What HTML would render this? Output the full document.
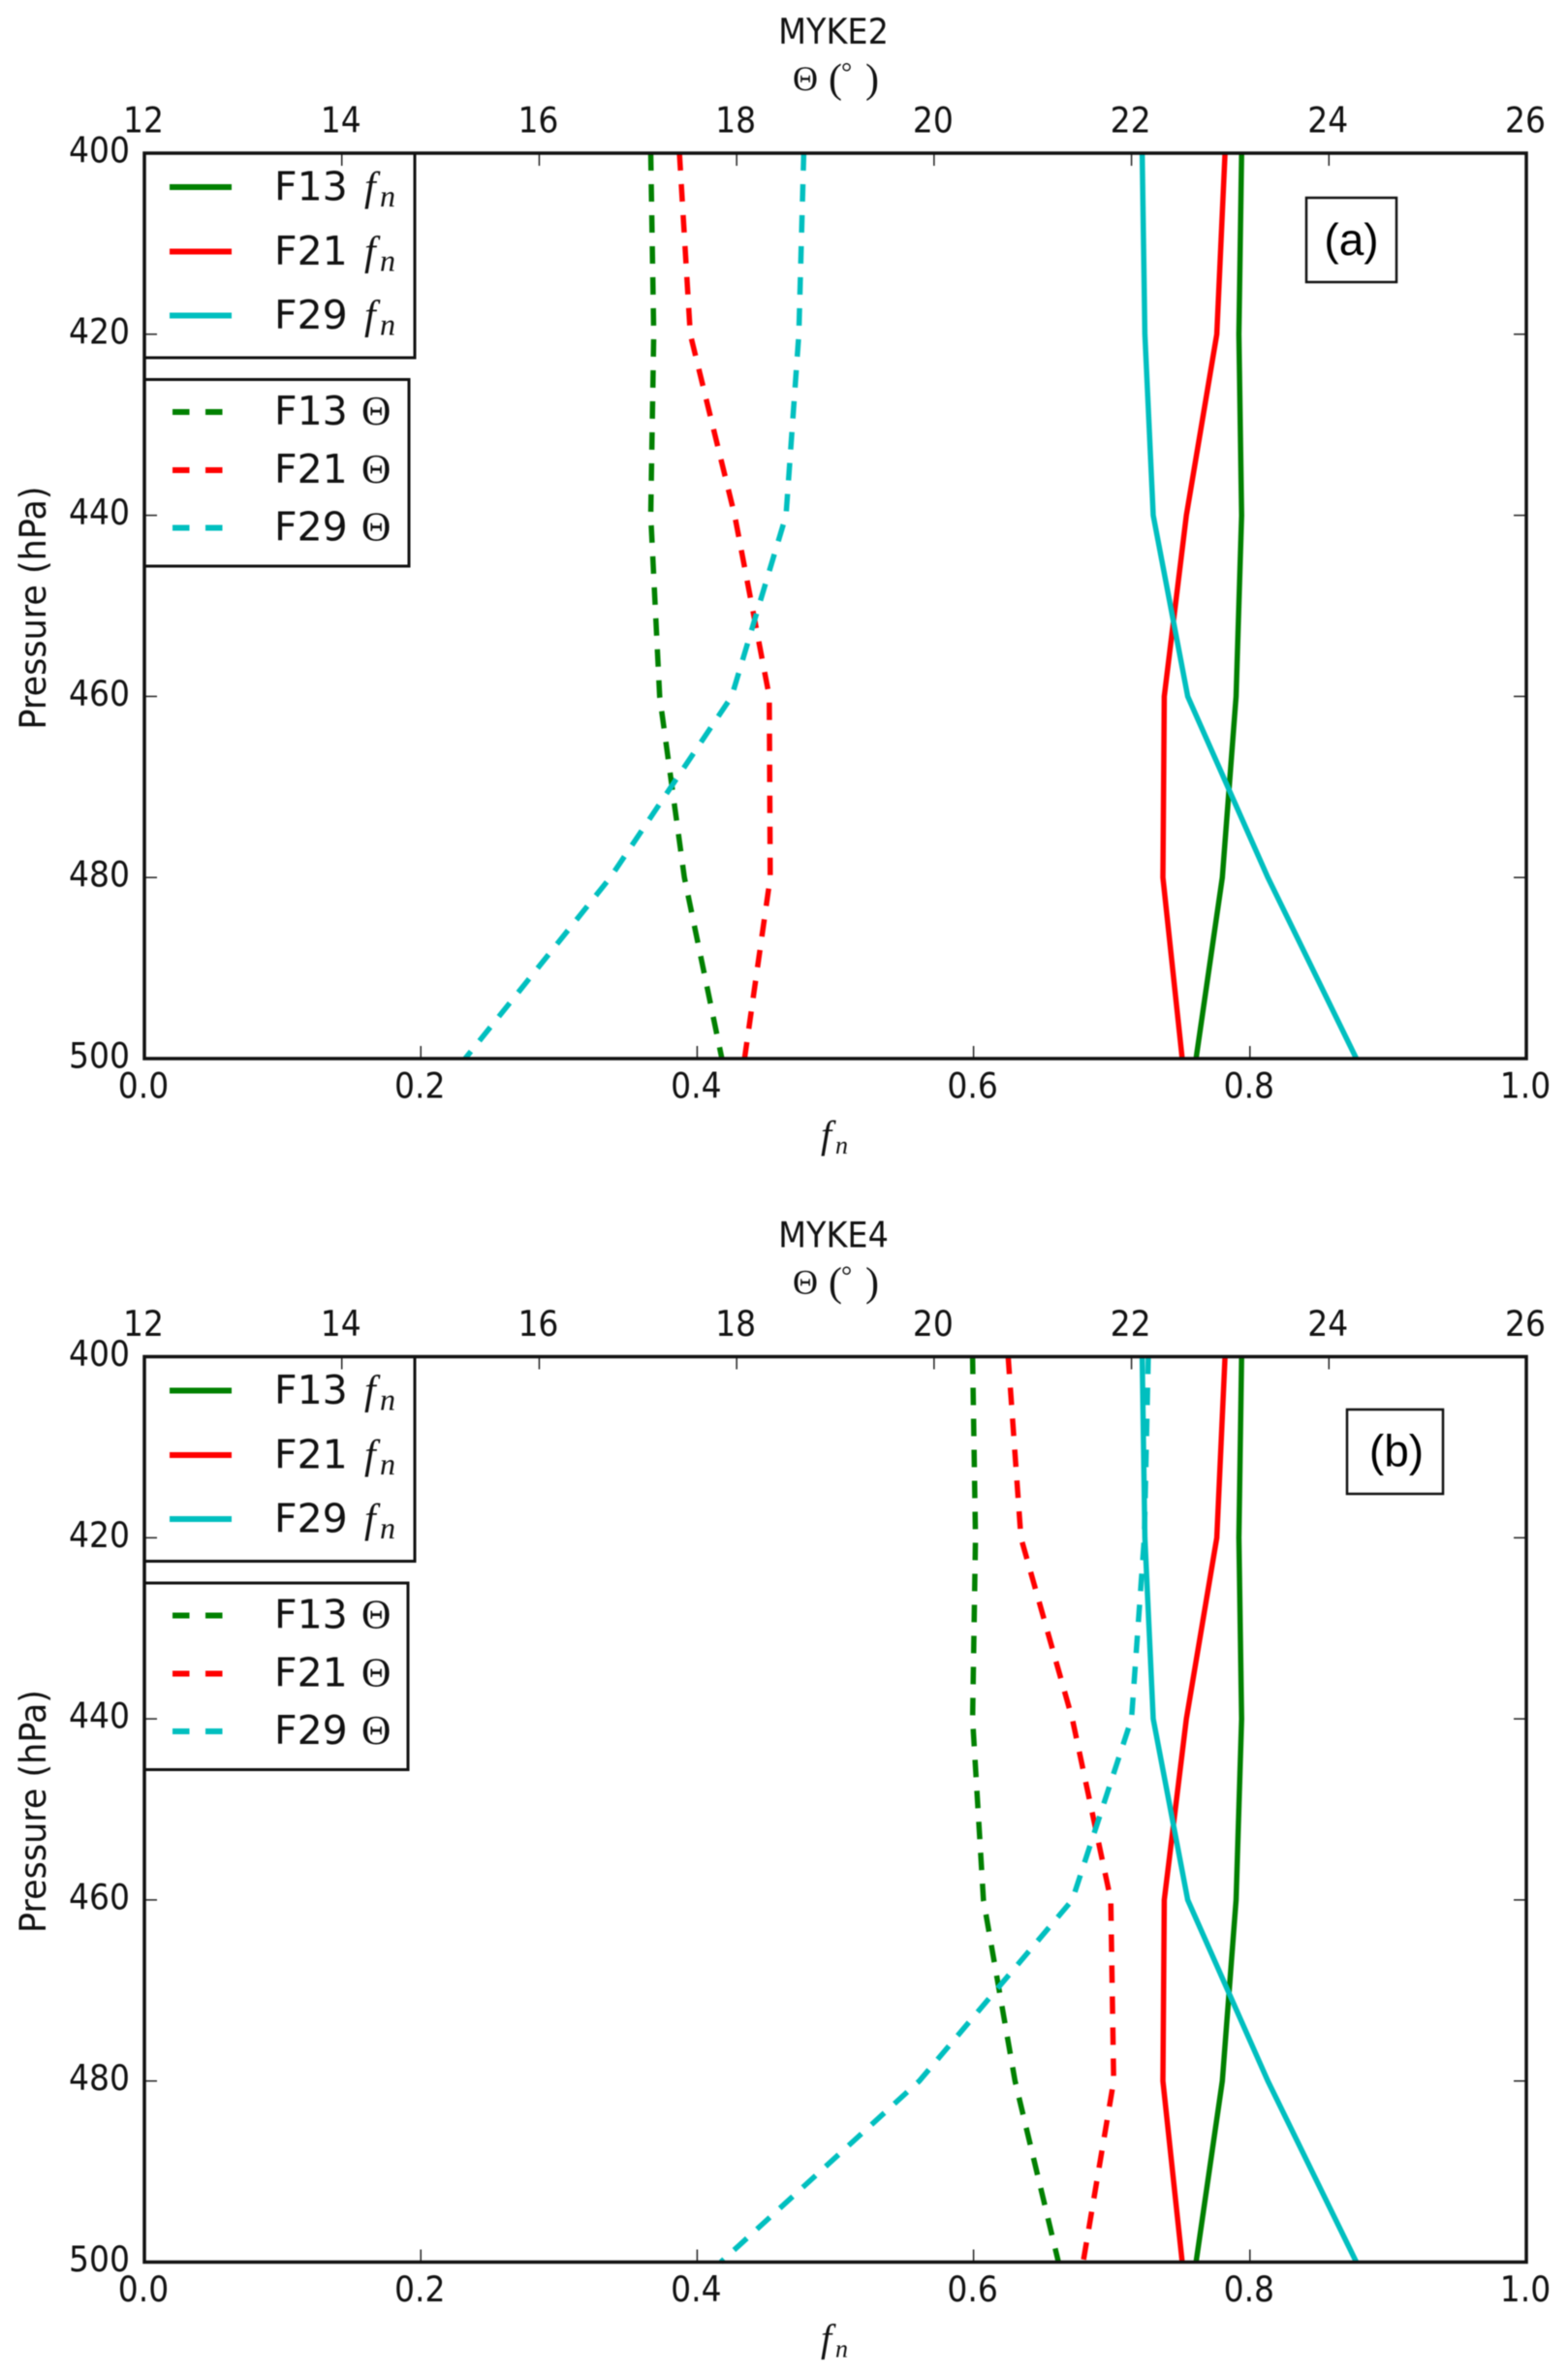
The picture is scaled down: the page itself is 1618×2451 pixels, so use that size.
<!DOCTYPE html>
<html lang="en">
<head>
<meta charset="utf-8">
<title>MYKE2 and MYKE4 profiles</title>
<style>
html,body{margin:0;padding:0;background:#fff;}
svg{display:block;filter:blur(0.6px);}
text{font-family:"DejaVu Sans","Liberation Sans",sans-serif;fill:#111;}
.serif{font-family:"Liberation Serif",serif;}
.it{font-family:"Liberation Serif",serif;font-style:italic;}
.note{font-family:"Liberation Sans",sans-serif;fill:#000;font-size:46px;text-anchor:middle;}
.leg{font-size:41px;}
.box{fill:#fff;stroke:#111;stroke-width:3;}
.solid{fill:none;stroke-width:5.5;}
.dash{fill:none;stroke-width:5.5;stroke-dasharray:18 14;}
.g{stroke:#008000;}.r{stroke:#ff0000;}.c{stroke:#00bfbf;}
</style>
</head>
<body>
<svg id="figure" xmlns="http://www.w3.org/2000/svg" width="1618" height="2451" viewBox="0 0 1618 2451">
<rect width="1618" height="2451" fill="#fff"/>

<!-- Panel A -->
<g id="panel-a">
  <g id="panel-a-lines"></g>
  <text font-size="33.5" text-anchor="middle" transform="translate(864,45) scale(1,1.1)" x="-4">MYKE2</text>
  <text class="serif" font-size="36" transform="translate(0,93)"><tspan x="818">Θ</tspan><tspan x="855" font-size="42" dy="2">(</tspan><tspan x="868" font-size="28" dy="-11">°</tspan><tspan x="893" font-size="42" dy="11">)</tspan></text>
  <text font-size="35" text-anchor="middle" transform="translate(47,627) rotate(-90) scale(1,1.08)">Pressure (hPa)</text>
  <g>
    <text class="it" font-size="40" x="847" y="1184">f</text>
    <text class="it" font-size="26" x="862" y="1190">n</text>
  </g>
  <g>
    <rect class="box" x="149" y="158" width="279" height="211"/>
    <line class="g" stroke-width="6" x1="175" x2="239" y1="193" y2="193"/>
    <text class="leg" x="283" y="206.5">F13</text>
    <text class="it" font-size="42" x="376" y="206.5">f</text><text class="it" font-size="32" x="392" y="213">n</text>
    <line class="r" stroke-width="6" x1="175" x2="239" y1="259.5" y2="259.5"/>
    <text class="leg" x="283" y="273">F21</text>
    <text class="it" font-size="42" x="376" y="273">f</text><text class="it" font-size="32" x="392" y="279.5">n</text>
    <line class="c" stroke-width="6" x1="175" x2="239" y1="325.5" y2="325.5"/>
    <text class="leg" x="283" y="339">F29</text>
    <text class="it" font-size="42" x="376" y="339">f</text><text class="it" font-size="32" x="392" y="345.5">n</text>
  </g>
  <g>
    <rect class="box" x="149" y="391.5" width="273" height="192.5"/>
    <line class="g" stroke-width="6" stroke-dasharray="17.5 16.5" x1="178" x2="230" y1="425" y2="425"/>
    <text class="leg" x="283" y="438">F13</text>
    <text class="serif" font-size="42" x="373" y="438">Θ</text>
    <line class="r" stroke-width="6" stroke-dasharray="17.5 16.5" x1="178" x2="230" y1="485" y2="485"/>
    <text class="leg" x="283" y="498">F21</text>
    <text class="serif" font-size="42" x="373" y="498">Θ</text>
    <line class="c" stroke-width="6" stroke-dasharray="17.5 16.5" x1="178" x2="230" y1="544.5" y2="544.5"/>
    <text class="leg" x="283" y="557.5">F29</text>
    <text class="serif" font-size="42" x="373" y="557.5">Θ</text>
  </g>
  <g>
    <rect x="1348" y="204" width="93" height="87" fill="#fff" stroke="#111" stroke-width="2.5"/>
    <text class="note" x="1394.5" y="263">(a)</text>
  </g>
  <g id="panel-a-axes"></g>
  <rect x="149" y="158" width="1426" height="934" fill="none" stroke="#111" stroke-width="3.5"/>
</g>

<!-- Panel B -->
<g id="panel-b" transform="translate(0,1241.5)">
  <g id="panel-b-lines"></g>
  <text font-size="33.5" text-anchor="middle" transform="translate(864,45) scale(1,1.1)" x="-4">MYKE4</text>
  <text class="serif" font-size="36" transform="translate(0,93)"><tspan x="818">Θ</tspan><tspan x="855" font-size="42" dy="2">(</tspan><tspan x="868" font-size="28" dy="-11">°</tspan><tspan x="893" font-size="42" dy="11">)</tspan></text>
  <text font-size="35" text-anchor="middle" transform="translate(47,627) rotate(-90) scale(1,1.08)">Pressure (hPa)</text>
  <g>
    <text class="it" font-size="40" x="847" y="1184">f</text>
    <text class="it" font-size="26" x="862" y="1190">n</text>
  </g>
  <g>
    <rect class="box" x="149" y="158" width="279" height="211"/>
    <line class="g" stroke-width="6" x1="175" x2="239" y1="193" y2="193"/>
    <text class="leg" x="283" y="206.5">F13</text>
    <text class="it" font-size="42" x="376" y="206.5">f</text><text class="it" font-size="32" x="392" y="213">n</text>
    <line class="r" stroke-width="6" x1="175" x2="239" y1="259.5" y2="259.5"/>
    <text class="leg" x="283" y="273">F21</text>
    <text class="it" font-size="42" x="376" y="273">f</text><text class="it" font-size="32" x="392" y="279.5">n</text>
    <line class="c" stroke-width="6" x1="175" x2="239" y1="325.5" y2="325.5"/>
    <text class="leg" x="283" y="339">F29</text>
    <text class="it" font-size="42" x="376" y="339">f</text><text class="it" font-size="32" x="392" y="345.5">n</text>
  </g>
  <g>
    <rect class="box" x="149" y="391.5" width="272" height="192.5"/>
    <line class="g" stroke-width="6" stroke-dasharray="17.5 16.5" x1="178" x2="230" y1="425" y2="425"/>
    <text class="leg" x="283" y="438">F13</text>
    <text class="serif" font-size="42" x="373" y="438">Θ</text>
    <line class="r" stroke-width="6" stroke-dasharray="17.5 16.5" x1="178" x2="230" y1="485" y2="485"/>
    <text class="leg" x="283" y="498">F21</text>
    <text class="serif" font-size="42" x="373" y="498">Θ</text>
    <line class="c" stroke-width="6" stroke-dasharray="17.5 16.5" x1="178" x2="230" y1="544.5" y2="544.5"/>
    <text class="leg" x="283" y="557.5">F29</text>
    <text class="serif" font-size="42" x="373" y="557.5">Θ</text>
  </g>
  <g>
    <rect x="1390" y="212.5" width="99" height="87" fill="#fff" stroke="#111" stroke-width="2.5"/>
    <text class="note" x="1441" y="271">(b)</text>
  </g>
  <g id="panel-b-axes"></g>
  <rect x="149" y="158" width="1426" height="934" fill="none" stroke="#111" stroke-width="3.5"/>
</g>
</svg>

<script>
// Shared pressure levels (hPa) for every series
const pressureLevels = [400, 420, 440, 460, 480, 500];

// Volume fraction fn (bottom axis), same in both panels
const fnF13 = [0.794, 0.792, 0.794, 0.790, 0.780, 0.761];
const fnF21 = [0.782, 0.776, 0.754, 0.738, 0.737, 0.751];
const fnF29 = [0.722, 0.724, 0.730, 0.755, 0.813, 0.877];

// Angle theta (top axis), panel (a) MYKE2
const thetaF13A = [17.13, 17.16, 17.13, 17.22, 17.47, 17.85];
const thetaF21A = [17.42, 17.53, 17.98, 18.33, 18.34, 18.08];
const thetaF29A = [18.68, 18.63, 18.50, 17.95, 16.72, 15.25];

// Angle theta (top axis), panel (b) MYKE4
const thetaF13B = [20.39, 20.42, 20.39, 20.50, 20.82, 21.26];
const thetaF21B = [20.75, 20.88, 21.40, 21.79, 21.82, 21.51];
const thetaF29B = [22.17, 22.13, 22.00, 21.40, 19.85, 17.84];

// Tick values and labels
const thetaTicks = [12, 14, 16, 18, 20, 22, 24, 26];
const fnTicks = [0, 0.2, 0.4, 0.6, 0.8, 1];
const fnTickLabels = ["0.0", "0.2", "0.4", "0.6", "0.8", "1.0"];
const pressureTicks = [400, 420, 440, 460, 480, 500];

const NS = "http://www.w3.org/2000/svg";
const plotLeft = 149, plotWidth = 1426, plotTop = 158, plotHeight = 934;

function xFromFn(v) { return plotLeft + v * plotWidth; }
function xFromTheta(v) { return plotLeft + (v - 12) / 14 * plotWidth; }
function yFromPressure(p) { return plotTop + (p - 400) / 100 * plotHeight; }

function drawSeries(parent, values, xAxis, cssClass, label) {
  const pts = values.map(function (v, i) {
    return xAxis(v).toFixed(1) + "," + yFromPressure(pressureLevels[i]).toFixed(1);
  }).join(" ");
  const el = document.createElementNS(NS, "polyline");
  el.setAttribute("points", pts);
  el.setAttribute("class", cssClass);
  
  
  parent.appendChild(el);
}

function drawTick(parent, x1, y1, x2, y2) {
  const el = document.createElementNS(NS, "line");
  el.setAttribute("x1", x1);
  el.setAttribute("y1", y1);
  el.setAttribute("x2", x2);
  el.setAttribute("y2", y2);
  el.setAttribute("stroke", "#222");
  el.setAttribute("stroke-width", "1.5");
  
  
  parent.appendChild(el);
}

function drawLabel(parent, str, x, y, anchor) {
  const el = document.createElementNS(NS, "text");
  el.textContent = str;
  el.setAttribute("font-size", "33");
  el.setAttribute("text-anchor", anchor);
  el.setAttribute("transform", "translate(" + x + "," + y + ") scale(1,1.1)");
  
  
  parent.appendChild(el);
}

function drawAxes(parent) {
  const tickLen = 13;
  const bottom = plotTop + plotHeight;
  const right = plotLeft + plotWidth;
  thetaTicks.forEach(function (t) {
    const x = xFromTheta(t);
    drawTick(parent, x, plotTop, x, plotTop + tickLen);
    drawLabel(parent, String(t), x - 1, plotTop - 21.5, "middle");
  });
  fnTicks.forEach(function (f, i) {
    const x = xFromFn(f);
    drawTick(parent, x, bottom, x, bottom - tickLen);
    drawLabel(parent, fnTickLabels[i], x - 1, bottom + 40.5, "middle");
  });
  pressureTicks.forEach(function (p) {
    const y = yFromPressure(p);
    drawTick(parent, plotLeft, y, plotLeft + tickLen, y);
    drawTick(parent, right, y, right - tickLen, y);
    drawLabel(parent, String(p), plotLeft - 15, y + 9.5, "end");
  });
}

function drawPanel(prefix, thetaF13, thetaF21, thetaF29) {
  const lines = document.getElementById(prefix + "-lines");
  drawSeries(lines, fnF13, xFromFn, "solid g", "line-f13-fn");
  drawSeries(lines, fnF21, xFromFn, "solid r", "line-f21-fn");
  drawSeries(lines, fnF29, xFromFn, "solid c", "line-f29-fn");
  drawSeries(lines, thetaF13, xFromTheta, "dash g", "line-f13-theta");
  drawSeries(lines, thetaF21, xFromTheta, "dash r", "line-f21-theta");
  drawSeries(lines, thetaF29, xFromTheta, "dash c", "line-f29-theta");
  drawAxes(document.getElementById(prefix + "-axes"));
}

drawPanel("panel-a", thetaF13A, thetaF21A, thetaF29A);
drawPanel("panel-b", thetaF13B, thetaF21B, thetaF29B);
</script>
</body>
</html>
